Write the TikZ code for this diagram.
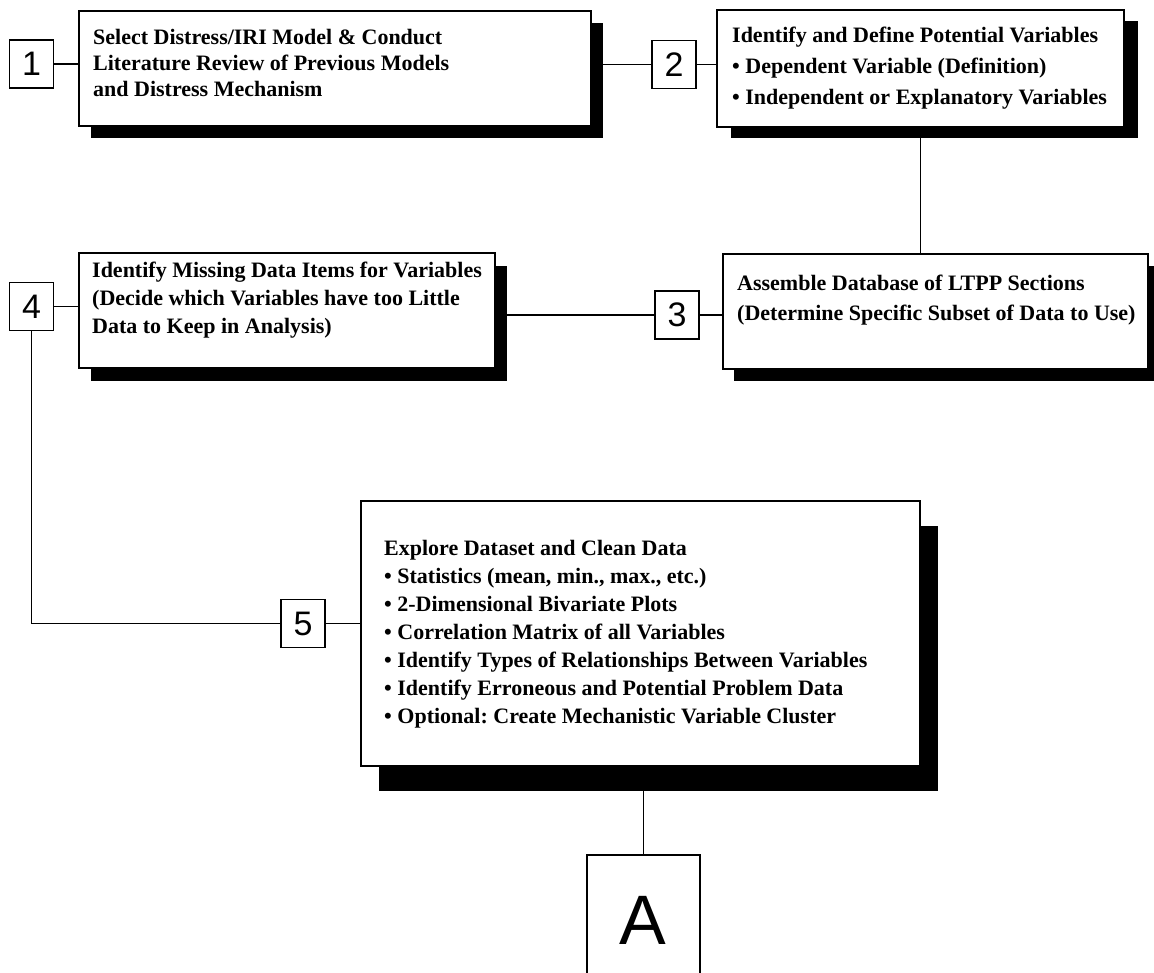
\documentclass[tikz,border=0pt]{standalone}
\usepackage{fontspec}
\setmainfont{Liberation Serif}
\newfontfamily\labelfont{Liberation Sans}
\usetikzlibrary{shadows}
\frenchspacing
\begin{document}
\begin{tikzpicture}[x=1pt,y=-1pt,
  box/.style={draw=black,line width=1.8pt,fill=white,anchor=north west,inner sep=0pt},
  shd/.style 2 args={drop shadow={shadow xshift=#1pt,shadow yshift=-#2pt,fill=black,opacity=1}},
  txt/.style={anchor=north west,inner sep=0pt,align=left},
  numbox/.style={draw=black,line width=1.6pt,fill=white,minimum width=44pt,minimum height=48pt,inner sep=0pt,font=\labelfont\fontsize{34}{34}\selectfont},
  conn/.style={line width=1.6pt}
]
\useasboundingbox (0,0) rectangle (1154,973);
\clip (0,0) rectangle (1154,973);

% boxes
\node[box,minimum width=512pt,minimum height=115pt,shd={12}{12}] (b1) at (78,10) {};
\node[box,minimum width=407pt,minimum height=117pt,shd={14}{11}] (b2) at (716,9) {};
\node[box,minimum width=425pt,minimum height=115pt,shd={11}{12}] (b3) at (722,253) {};
\node[box,minimum width=416pt,minimum height=115pt,shd={12}{13}] (b4) at (78,252) {};
\node[box,minimum width=559pt,minimum height=265pt,shd={18}{25}] (b5) at (360,500) {};
\node[box,minimum width=113pt,minimum height=160pt] (nA) at (586,854) {};

% texts
\node[txt,font=\bfseries\fontsize{22}{26}\selectfont] (t1) at (93,29)
  {Select Distress/IRI Model \& Conduct\\Literature Review of Previous Models\\and Distress Mechanism};
\node[txt,font=\bfseries\fontsize{22}{31}\selectfont] (t2) at (732,27)
  {Identify and Define Potential Variables\\\textbullet\ Dependent Variable (Definition)\\\textbullet\ Independent or Explanatory Variables};
\node[txt,font=\bfseries\fontsize{22}{30}\selectfont] (t3) at (737,275)
  {Assemble Database of LTPP Sections\\(Determine Specific Subset of Data to Use)};
\node[txt,font=\bfseries\fontsize{22}{28}\selectfont] (t4) at (92,262)
  {Identify Missing Data Items for Variables\\(Decide which Variables have too Little\\Data to Keep in Analysis)};
\node[txt,font=\bfseries\fontsize{22}{28}\selectfont] (t5) at (384,540)
  {Explore Dataset and Clean Data\\\textbullet\ Statistics (mean, min., max., etc.)\\\textbullet\ 2-Dimensional Bivariate Plots\\\textbullet\ Correlation Matrix of all Variables\\\textbullet\ Identify Types of Relationships Between Variables\\\textbullet\ Identify Erroneous and Potential Problem Data\\\textbullet\ Optional: Create Mechanistic Variable Cluster};
\node[font=\labelfont\fontsize{70}{70}\selectfont,inner sep=0pt] (tA) at (643,920) {A};

% number labels
\node[numbox] (n1) at (31.5,64) {1};
\node[numbox] (n2) at (674,64.5) {2};
\node[numbox] (n3) at (677,315) {3};
\node[numbox] (n4) at (31.5,306.5) {4};
\node[numbox] (n5) at (303,623.5) {5};

% connectors
\draw[conn] (n1.east) -- (b1.west |- n1.east);
\draw[conn] (b1.east |- n2.west) -- (n2.west);
\draw[conn] (n2.east) -- (b2.west |- n2.east);
\draw[conn] (b2.south) -- (b2.south |- b3.north);
\draw[conn] (n3.east) -- (b3.west |- n3.east);
\draw[conn] (b4.east |- n3.west) -- (n3.west);
\draw[conn] (n4.east) -- (b4.west |- n4.east);
\draw[conn] (n4.south) |- (n5.west);
\draw[conn] (n5.east) -- (b5.west |- n5.east);
\draw[conn] (nA.north |- b5.south) -- (nA.north);
\end{tikzpicture}
\end{document}
